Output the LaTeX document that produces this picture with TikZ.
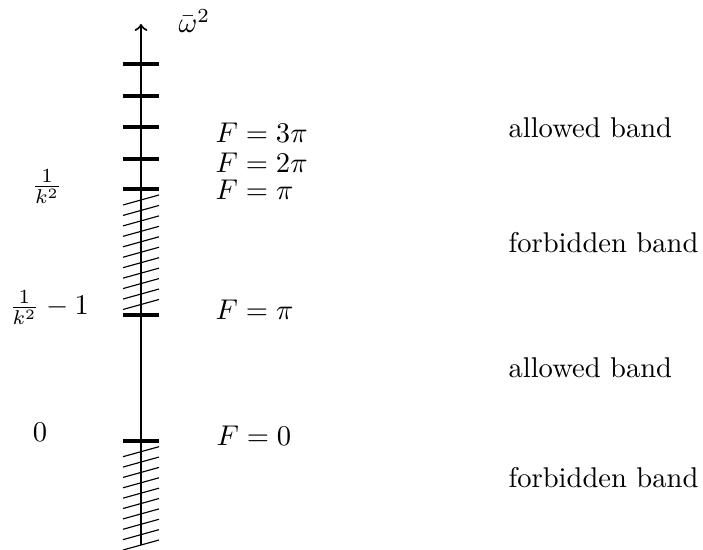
\documentclass[tikz,border=0pt]{standalone}
\begin{document}
\begin{tikzpicture}[x=0.35pt,y=-0.35pt,
  tickmark/.style={line width=1.4pt},
  axisline/.style={line width=0.7pt},
  hatchline/.style={line width=0.4pt},
  lbl/.style={inner sep=0pt, anchor=base west},
  lftlbl/.style={inner sep=0pt, anchor=base}]
\useasboundingbox (0,0) rectangle (703,550);
% hatching
\foreach \i in {0,...,10}
  \draw[hatchline] (123,{205+10.45*\i}) -- (159,{195+10.45*\i});
\foreach \i in {0,...,9}
  \draw[hatchline] (123,{456.7+10.37*\i}) -- (159,{446.7+10.37*\i});
% axis
\coordinate (axbot) at (141,545);
\coordinate (axtop) at (141,24);
\draw[axisline,->] (axbot) -- (axtop);
% ticks
\foreach \y in {64,96,127,159,189,315,441}
  \draw[tickmark] (123,\y) -- (159,\y);
% labels
\node[lbl] (w) at (178,33) {$\bar\omega^2$};
\node[lbl] (f3) at (215,143) {$F=3\pi$};
\node[lbl] (f2) at (215,173) {$F=2\pi$};
\node[lbl] (f1) at (215,200) {$F=\pi$};
\node[lbl] (f1b) at (215,320) {$F=\pi$};
\node[lbl] (f0) at (216,446) {$F=0$};
\node[lftlbl] (k1) at (47,194) {$\frac{1}{k^2}$};
\node[lftlbl] (k2) at (49,315) {$\frac{1}{k^2}-1$};
\node[lftlbl] (z) at (40,442) {$0$};
\node[lbl] (b1) at (508,138) {allowed band};
\node[lbl] (b2) at (508,253) {forbidden band};
\node[lbl] (b3) at (508,378) {allowed band};
\node[lbl] (b4) at (508,488) {forbidden band};
\end{tikzpicture}
\end{document}
